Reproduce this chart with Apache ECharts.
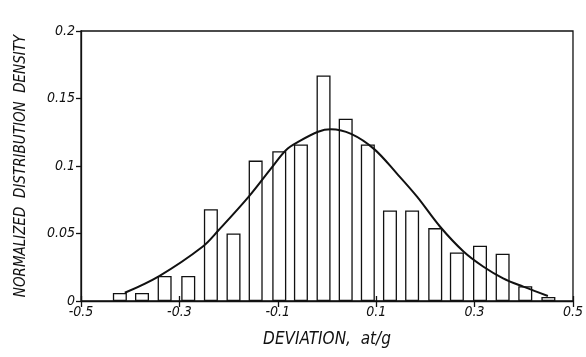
<!DOCTYPE html>
<html>
<head>
<meta charset="utf-8">
<script src="https://cdn.jsdelivr.net/npm/echarts@6/dist/echarts.min.js"></script>
<style>
  html, body { margin: 0; padding: 0; background: #fff; }
  #chart { width: 586px; height: 357px; }
</style>
</head>
<body>
<div id="chart"></div>
<script>
  // bin centres and normalized density
  var binCenters = [-0.421, -0.376, -0.330, -0.282, -0.236, -0.190, -0.145, -0.097, -0.053, -0.007,
                    0.038, 0.083, 0.128, 0.173, 0.220, 0.264, 0.311, 0.357, 0.403, 0.450];
  var density = [0.006, 0.006, 0.0185, 0.0185, 0.068, 0.050, 0.104, 0.111, 0.116, 0.167,
                 0.135, 0.116, 0.067, 0.067, 0.054, 0.036, 0.041, 0.035, 0.011, 0.003];
  // fitted curve, points
  var curveX = [-0.411, -0.341, -0.253, -0.220, -0.159, -0.112, -0.083, -0.058, -0.018, 0.008,
                0.049, 0.096, 0.143, 0.183, 0.230, 0.278, 0.318, 0.358, 0.399, 0.449];
  var curveY = [0.0061, 0.0185, 0.0402, 0.0526, 0.0773, 0.099, 0.1119, 0.118, 0.1254, 0.1272,
                0.1238, 0.1125, 0.0940, 0.0773, 0.0550, 0.0365, 0.0254, 0.0168, 0.0106, 0.0037];

  var font = 'DejaVu Sans Condensed';
  var bars = binCenters.map(function (x, i) { return [x, density[i]]; });
  var curve = curveX.map(function (x, i) { return [x, curveY[i]]; });

  var myChart = echarts.init(document.getElementById('chart'));
  myChart.setOption({
    animation: false,
    grid: { left: 81, right: 9, top: 31, bottom: 56, show: true, borderColor: '#111', borderWidth: 1.3 },
    xAxis: [{
      type: 'value', min: -0.5, max: 0.5, interval: 0.2,
      name: 'DEVIATION,  at/g', nameLocation: 'middle', nameGap: 30,
      nameTextStyle: { fontFamily: font, fontStyle: 'italic', fontSize: 17, color: '#111' },
      axisLine: { onZero: false, lineStyle: { color: '#111', width: 1.3 } },
      axisTick: { inside: true, length: 5, lineStyle: { color: '#111', width: 1.3 } },
      axisLabel: { fontFamily: font, fontStyle: 'italic', fontSize: 14, color: '#111', margin: 4,
        formatter: function (v) { return String(+v.toFixed(1)); } },
      splitLine: { show: false }
    }, {
      type: 'value', min: -0.5, max: 0.5, interval: 0.2, position: 'top',
      axisLine: { show: false },
      axisTick: { inside: true, length: 6, lineStyle: { color: '#111', width: 1.3 } },
      axisLabel: { show: false },
      splitLine: { show: false }
    }],
    yAxis: {
      type: 'value', min: 0, max: 0.2, interval: 0.05,
      name: 'NORMALIZED  DISTRIBUTION  DENSITY', nameLocation: 'middle', nameGap: 52,
      nameTextStyle: { fontFamily: font, fontStyle: 'italic', fontSize: 15, color: '#111' },
      axisLine: { show: true, onZero: false, lineStyle: { color: '#111', width: 1.3 } },
      axisTick: { show: true, length: 5, lineStyle: { color: '#111', width: 1.3 } },
      axisLabel: { fontFamily: font, fontStyle: 'italic', fontSize: 14, color: '#111', margin: 6,
        formatter: function (v) { return String(+v.toFixed(2)); } },
      splitLine: { show: false }
    },
    series: [{
      type: 'bar',
      data: bars,
      barWidth: 14,
      itemStyle: { color: '#fff', borderColor: '#111', borderWidth: 1.3 }
    }, {
      type: 'line',
      data: curve,
      smooth: 0.35,
      symbol: 'none',
      lineStyle: { color: '#111', width: 2 }
    }]
  });
</script>
</body>
</html>
